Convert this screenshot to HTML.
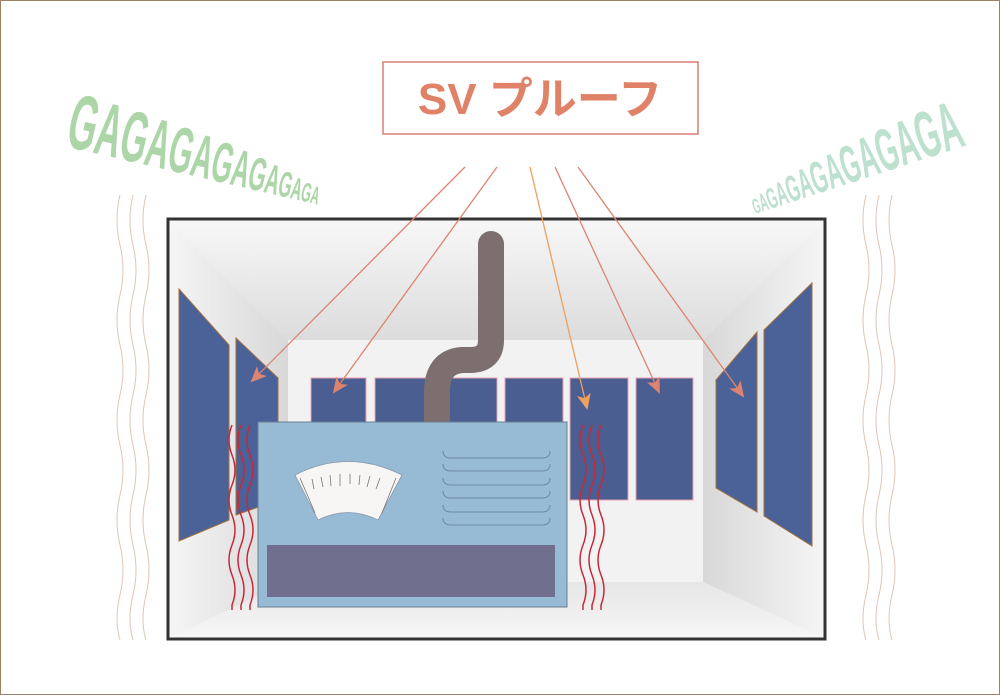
<!DOCTYPE html>
<html><head><meta charset="utf-8"><style>
html,body{margin:0;padding:0;background:#fff}
svg{display:block}
</style></head><body>
<svg width="1000" height="695" viewBox="0 0 1000 695" xmlns="http://www.w3.org/2000/svg">
<defs>
<linearGradient id="ceil" x1="0" y1="0" x2="0" y2="1"><stop offset="0" stop-color="#f7f7f7"/><stop offset="1" stop-color="#dcdcdc"/></linearGradient>
<linearGradient id="lw" x1="0" y1="0" x2="1" y2="0"><stop offset="0" stop-color="#f5f5f5"/><stop offset="1" stop-color="#d8d8d8"/></linearGradient>
<linearGradient id="rw" x1="1" y1="0" x2="0" y2="0"><stop offset="0" stop-color="#f5f5f5"/><stop offset="1" stop-color="#d8d8d8"/></linearGradient>
<linearGradient id="fl" x1="0" y1="1" x2="0" y2="0"><stop offset="0" stop-color="#f6f6f6"/><stop offset="1" stop-color="#e6e6e6"/></linearGradient>
<marker id="ah" markerWidth="16" markerHeight="14" refX="14" refY="7" orient="auto" markerUnits="userSpaceOnUse"><path d="M0,0 L16,7 L0,14 L4,7 Z" fill="#dd8470"/></marker>
<marker id="ah2" markerWidth="16" markerHeight="14" refX="14" refY="7" orient="auto" markerUnits="userSpaceOnUse"><path d="M0,0 L16,7 L0,14 L4,7 Z" fill="#eda060"/></marker>
</defs>
<rect x="0.5" y="0.5" width="999" height="694" fill="#fff" stroke="#a08060"/>
<polygon points="169,220 824,220 703,340 288,340" fill="url(#ceil)"/>
<polygon points="169,220 288,340 288,582 169,638" fill="url(#lw)"/>
<polygon points="824,220 703,340 703,582 824,638" fill="url(#rw)"/>
<polygon points="288,582 703,582 824,638 169,638" fill="url(#fl)"/>
<rect x="288" y="340" width="415" height="242" fill="#f3f2f2"/>
<rect x="168" y="219" width="657" height="420" fill="none" stroke="#333" stroke-width="3"/>
<g fill="#4a6298" stroke="#a07040" stroke-width="1">
<polygon points="179,289 229,345 229,520 179,541"/>
<polygon points="236,338 278,378 278,500 236,515"/>
<polygon points="716,380 757,332 757,512 716,488"/>
<polygon points="764,330 812,283 812,546 764,516"/>
</g>
<g fill="#4a5e91" stroke="#e8a0b0" stroke-width="1">
<rect x="311" y="378" width="55" height="122"/>
<rect x="375" y="378" width="122" height="122"/>
<rect x="505" y="378" width="58" height="122"/>
<rect x="570" y="378" width="58" height="122"/>
<rect x="636" y="378" width="57" height="122"/>
</g>
<path d="M491,244 L491,340 Q491,360 470,360 L462,360 Q437,362 437,392 L437,422" fill="none" stroke="#7d6f6f" stroke-width="26" stroke-linecap="round"/>
<rect x="424" y="405" width="26" height="18" fill="#7d6f6f"/>
<rect x="258" y="422" width="309" height="185" fill="#97bad5" stroke="#6a7f90" stroke-width="1"/>
<rect x="267" y="545" width="288" height="52" fill="#706f8e"/>
<path d="M295,475 Q348,448 402,475 L378,520 Q348,505 318,520 Z" fill="#f8f6f5" stroke="#8899a8" stroke-width="0.8"/>
<g stroke="#777" stroke-width="0.8">
<line x1="300" y1="478" x2="315" y2="513"/><line x1="312" y1="479" x2="314" y2="489"/><line x1="321" y1="477" x2="323" y2="487"/><line x1="330" y1="475" x2="331" y2="486"/><line x1="340" y1="474" x2="340" y2="486"/><line x1="350" y1="474" x2="350" y2="484"/><line x1="360" y1="475" x2="359" y2="485"/><line x1="370" y1="476" x2="367" y2="487"/><line x1="380" y1="478" x2="376" y2="489"/><line x1="396" y1="478" x2="382" y2="513"/>
</g>
<g fill="none" stroke="#6f8aa3" stroke-width="1">
<path d="M443,451 q0,7 8,7 h91 q8,0 8,-7"/>
<path d="M443,464 q0,7 8,7 h91 q8,0 8,-7"/>
<path d="M443,478 q0,7 8,7 h91 q8,0 8,-7"/>
<path d="M443,491 q0,7 8,7 h91 q8,0 8,-7"/>
<path d="M443,505 q0,7 8,7 h91 q8,0 8,-7"/>
<path d="M443,518 q0,7 8,7 h91 q8,0 8,-7"/>
</g>
<g fill="none" stroke="#c8283a" stroke-width="1.5">
<path id="rw1" d="M232,425 q-6,15 0,30 q6,15 0,30 q-6,15 0,30 q6,15 0,30 q-6,15 0,30 q6,15 0,30 l0,5"/>
<use href="#rw1" x="9"/><use href="#rw1" x="18"/>
<use href="#rw1" x="351"/><use href="#rw1" x="360"/><use href="#rw1" x="369"/>
</g>
<g fill="none" stroke="#e0c4b6" stroke-width="1">
<path id="fw" d="M120,195 q-6,25 0,50 q6,25 0,50 q-6,25 0,50 q6,25 0,50 q-6,25 0,50 q6,25 0,50 q-6,25 0,50 q6,25 0,50 q-6,25 0,45"/>
<use href="#fw" x="13"/><use href="#fw" x="26"/>
<use href="#fw" x="746"/><use href="#fw" x="759"/><use href="#fw" x="772"/>
</g>
<g fill="none" stroke="#dd8470" stroke-width="1.3">
<line x1="465" y1="167" x2="252" y2="381" marker-end="url(#ah)"/>
<line x1="497" y1="167" x2="334" y2="392" marker-end="url(#ah)"/>
<line x1="555" y1="167" x2="659" y2="392" marker-end="url(#ah)"/>
<line x1="578" y1="167" x2="743" y2="396" marker-end="url(#ah)"/>
</g>
<line x1="530" y1="167" x2="587" y2="408" stroke="#eda060" stroke-width="1.3" marker-end="url(#ah2)"/>
<rect x="383" y="62" width="315" height="72" fill="#fff" stroke="#d98070" stroke-width="1.5"/>
<text x="540" y="114" text-anchor="middle" font-family="'Liberation Sans','Noto Sans CJK JP',sans-serif" font-weight="bold" font-size="44" fill="#e08268">SV プルーフ</text>
<g transform="translate(64,146) rotate(13) scale(0.47,1)" font-family="'Liberation Sans',sans-serif" font-weight="bold" fill="#acd6a8">
<text x="0" y="0"><tspan font-size="78">G</tspan><tspan font-size="75">A</tspan><tspan font-size="72">G</tspan><tspan font-size="69">A</tspan><tspan font-size="65">G</tspan><tspan font-size="61">A</tspan><tspan font-size="57">G</tspan><tspan font-size="52">A</tspan><tspan font-size="47">G</tspan><tspan font-size="42">A</tspan><tspan font-size="36">G</tspan><tspan font-size="31">A</tspan><tspan font-size="27">G</tspan><tspan font-size="25">A</tspan></text>
</g>
<g transform="translate(755,214) rotate(-18) scale(0.46,1)" font-family="'Liberation Sans',sans-serif" font-weight="bold" fill="#bde0cf">
<text x="0" y="0"><tspan font-size="21">G</tspan><tspan font-size="25">A</tspan><tspan font-size="29">G</tspan><tspan font-size="33">A</tspan><tspan font-size="37">G</tspan><tspan font-size="41">A</tspan><tspan font-size="45">G</tspan><tspan font-size="49">A</tspan><tspan font-size="53">G</tspan><tspan font-size="57">A</tspan><tspan font-size="60">G</tspan><tspan font-size="63">A</tspan><tspan font-size="66">G</tspan><tspan font-size="68">A</tspan></text>
</g>
</svg>
</body></html>
